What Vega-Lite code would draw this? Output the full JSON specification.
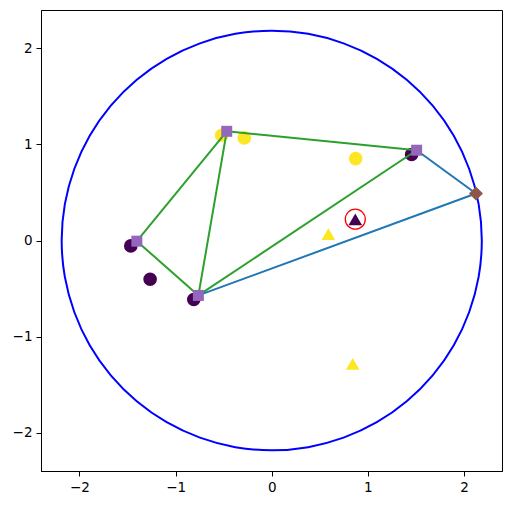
{
  "$schema": "https://vega.github.io/schema/vega-lite/v6.json",
  "width": 461,
  "height": 461,
  "autosize": "none",
  "padding": {"left": 41, "top": 10, "right": 10, "bottom": 34},
  "background": "white",
  "config": {
    "view": {"stroke": "black", "strokeWidth": 1},
    "axis": {
      "grid": false,
      "title": null,
      "domainColor": "black",
      "domainWidth": 1,
      "tickColor": "black",
      "tickWidth": 1,
      "tickSize": 5,
      "labelColor": "black",
      "labelFont": "DejaVu Sans",
      "labelFontSize": 13.5,
      "labelPadding": 4
    }
  },
  "datasets": {
    "ring": [
      {"i": 0, "x": 2.185, "y": 0},
      {"i": 1, "x": 2.152, "y": 0.379},
      {"i": 2, "x": 2.053, "y": 0.747},
      {"i": 3, "x": 1.892, "y": 1.093},
      {"i": 4, "x": 1.674, "y": 1.404},
      {"i": 5, "x": 1.404, "y": 1.674},
      {"i": 6, "x": 1.093, "y": 1.892},
      {"i": 7, "x": 0.747, "y": 2.053},
      {"i": 8, "x": 0.379, "y": 2.152},
      {"i": 9, "x": 0, "y": 2.185},
      {"i": 10, "x": -0.379, "y": 2.152},
      {"i": 11, "x": -0.747, "y": 2.053},
      {"i": 12, "x": -1.093, "y": 1.892},
      {"i": 13, "x": -1.404, "y": 1.674},
      {"i": 14, "x": -1.674, "y": 1.404},
      {"i": 15, "x": -1.892, "y": 1.093},
      {"i": 16, "x": -2.053, "y": 0.747},
      {"i": 17, "x": -2.152, "y": 0.379},
      {"i": 18, "x": -2.185, "y": 0},
      {"i": 19, "x": -2.152, "y": -0.379},
      {"i": 20, "x": -2.053, "y": -0.747},
      {"i": 21, "x": -1.892, "y": -1.093},
      {"i": 22, "x": -1.674, "y": -1.404},
      {"i": 23, "x": -1.404, "y": -1.674},
      {"i": 24, "x": -1.093, "y": -1.892},
      {"i": 25, "x": -0.747, "y": -2.053},
      {"i": 26, "x": -0.379, "y": -2.152},
      {"i": 27, "x": 0, "y": -2.185},
      {"i": 28, "x": 0.379, "y": -2.152},
      {"i": 29, "x": 0.747, "y": -2.053},
      {"i": 30, "x": 1.093, "y": -1.892},
      {"i": 31, "x": 1.404, "y": -1.674},
      {"i": 32, "x": 1.674, "y": -1.404},
      {"i": 33, "x": 1.892, "y": -1.093},
      {"i": 34, "x": 2.053, "y": -0.747},
      {"i": 35, "x": 2.152, "y": -0.379}
    ],
    "pts": [
      {"x": -1.466, "y": -0.056, "cls": 0, "shape": "circle"},
      {"x": -1.265, "y": -0.403, "cls": 0, "shape": "circle"},
      {"x": -0.811, "y": -0.614, "cls": 0, "shape": "circle"},
      {"x": 1.455, "y": 0.895, "cls": 0, "shape": "circle"},
      {"x": -0.52, "y": 1.096, "cls": 1, "shape": "circle"},
      {"x": -0.285, "y": 1.068, "cls": 1, "shape": "circle"},
      {"x": 0.873, "y": 0.853, "cls": 1, "shape": "circle"},
      {"x": 0.589, "y": 0.066, "cls": 1, "shape": "triangle"},
      {"x": 0.842, "y": -1.284, "cls": 1, "shape": "triangle"},
      {"x": 0.869, "y": 0.22, "cls": 0, "shape": "triangle"}
    ],
    "segs": [
      {"grp": "green", "x": -0.468, "y": 1.137, "x2": 1.507, "y2": 0.94},
      {"grp": "green", "x": 1.507, "y": 0.94, "x2": -0.763, "y2": -0.572},
      {"grp": "green", "x": -0.763, "y": -0.572, "x2": -1.403, "y2": -0.007},
      {"grp": "green", "x": -1.403, "y": -0.007, "x2": -0.468, "y2": 1.137},
      {"grp": "green", "x": -0.468, "y": 1.137, "x2": -0.763, "y2": -0.572},
      {"grp": "blue", "x": 1.507, "y": 0.94, "x2": 2.124, "y2": 0.489},
      {"grp": "blue", "x": 2.124, "y": 0.489, "x2": -0.763, "y2": -0.572}
    ],
    "sq": [
      {"x": -0.468, "y": 1.137, "kind": "square"},
      {"x": 1.507, "y": 0.94, "kind": "square"},
      {"x": -1.403, "y": -0.007, "kind": "square"},
      {"x": -0.763, "y": -0.572, "kind": "square"},
      {"x": 2.124, "y": 0.489, "kind": "diamond"}
    ],
    "hl": [
      {"x": 0.869, "y": 0.222}
    ]
  },
  "encoding": {
    "x": {
      "field": "x",
      "type": "quantitative",
      "scale": {"domain": [-2.4, 2.395], "nice": false, "zero": false},
      "axis": {"values": [-2, -1, 0, 1, 2]}
    },
    "y": {
      "field": "y",
      "type": "quantitative",
      "scale": {"domain": [-2.4, 2.4], "nice": false, "zero": false},
      "axis": {"values": [-2, -1, 0, 1, 2]}
    }
  },
  "layer": [
    {
      "data": {"name": "ring"},
      "mark": {"type": "line", "interpolate": "cardinal-closed", "color": "#0000ff", "strokeWidth": 2},
      "encoding": {"order": {"field": "i", "type": "quantitative"}}
    },
    {
      "data": {"name": "pts"},
      "mark": {"type": "point", "filled": true, "opacity": 1, "size": 185},
      "encoding": {
        "shape": {"field": "shape", "type": "nominal", "scale": {"domain": ["circle", "triangle"], "range": ["circle", "triangle-up"]}, "legend": null},
        "color": {"field": "cls", "type": "nominal", "scale": {"domain": [0, 1], "range": ["#440154", "#fde725"]}, "legend": null}
      }
    },
    {
      "data": {"name": "segs"},
      "mark": {"type": "rule", "strokeWidth": 2},
      "encoding": {
        "x2": {"field": "x2"},
        "y2": {"field": "y2"},
        "color": {"field": "grp", "type": "nominal", "scale": {"domain": ["green", "blue"], "range": ["#2ca02c", "#1f77b4"]}, "legend": null}
      }
    },
    {
      "data": {"name": "sq"},
      "mark": {"type": "point", "filled": true, "opacity": 1},
      "encoding": {
        "shape": {"field": "kind", "type": "nominal", "scale": {"domain": ["square", "diamond"], "range": ["square", "diamond"]}, "legend": null},
        "color": {"field": "kind", "type": "nominal", "scale": {"domain": ["square", "diamond"], "range": ["#9467bd", "#8c564b"]}, "legend": null},
        "size": {"field": "kind", "type": "nominal", "scale": {"domain": ["square", "diamond"], "range": [121, 196]}, "legend": null}
      }
    },
    {
      "data": {"name": "hl"},
      "mark": {"type": "point", "shape": "circle", "filled": false, "stroke": "#ff0000", "strokeWidth": 1.3, "size": 400, "opacity": 1}
    }
  ],
  "resolve": {"scale": {"color": "independent", "shape": "independent", "size": "independent"}}
}
